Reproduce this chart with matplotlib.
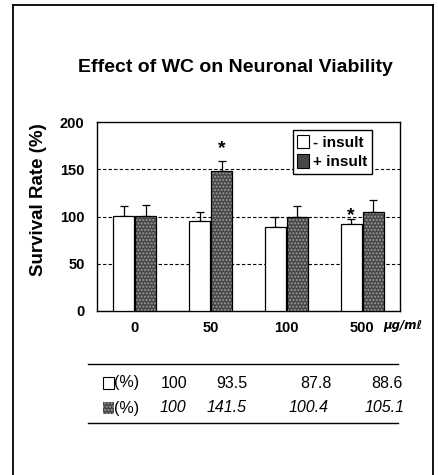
import matplotlib
matplotlib.use("Agg")
import matplotlib.pyplot as plt
from matplotlib.patches import Patch, Rectangle
from matplotlib.lines import Line2D
import numpy as np

plt.rcParams['font.family'] = ['Liberation Sans', 'DejaVu Sans']

# ---- data ----
doses = ['0', '50', '100', '500']
minus_vals = [101, 95, 89, 92]
minus_err = [10, 10, 10, 5]
plus_vals = [101, 148, 100, 105]
plus_err = [11, 11, 11, 12]
yticks = [0, 50, 100, 150, 200]
table_minus = ['100', '93.5', '87.8', '88.6']
table_plus = ['100', '141.5', '100.4', '105.1']
star_minus = [False, False, False, True]
star_plus = [False, True, False, False]

W, H = 439, 475
fig = plt.figure(figsize=(W / 100, H / 100), dpi=100)
fig.patch.set_facecolor('white')


def fx(px):
    return px / W


def fy(py):
    return 1 - py / H


# outer frame (open at bottom)
fig.add_artist(Line2D([fx(13), fx(13)], [0, fy(5)], color='black', lw=1.3))
fig.add_artist(Line2D([fx(13), fx(433)], [fy(5), fy(5)], color='black', lw=1.3))
fig.add_artist(Line2D([fx(433), fx(433)], [fy(5), 0], color='black', lw=1.3))

ax = fig.add_axes([fx(97), fy(311), fx(400) - fx(97), fy(122) - fy(311)])
x = np.arange(len(doses))
bw = 0.28
off = 0.145
gray = '#474747'

ax.bar(x - off, minus_vals, bw, color='white', edgecolor='black', lw=0.9, zorder=3)
ax.bar(x + off, plus_vals, bw, color=gray, edgecolor='#9a9a9a', hatch='.....', lw=0, zorder=3)
ax.bar(x + off, plus_vals, bw, color='none', edgecolor='black', lw=0.9, zorder=4)
ax.errorbar(x - off, minus_vals, yerr=[np.zeros(4), minus_err], fmt='none',
            ecolor='black', elinewidth=0.9, capsize=3, capthick=0.9, zorder=2)
ax.errorbar(x + off, plus_vals, yerr=[np.zeros(4), plus_err], fmt='none',
            ecolor='black', elinewidth=0.9, capsize=3, capthick=0.9, zorder=2)

for i in range(len(doses)):
    if star_minus[i]:
        ax.text(x[i] - off, minus_vals[i] + minus_err[i] + 4, '*', ha='center', va='center',
                fontsize=14, fontweight='bold')
    if star_plus[i]:
        ax.text(x[i] + off, plus_vals[i] + plus_err[i] + 13, '*', ha='center', va='center',
                fontsize=14, fontweight='bold')

ax.set_xlim(-0.5, len(doses) - 0.5)
ax.set_ylim(0, 200)
ax.set_yticks(yticks)
ax.set_yticklabels([str(t) for t in yticks], fontweight='bold', fontsize=10.5)
ax.set_xticks(x)
ax.set_xticklabels(doses, fontweight='bold', fontsize=10.5)
ax.tick_params(axis='both', length=0)
ax.tick_params(axis='y', pad=9)
ax.tick_params(axis='x', pad=7)
for t in yticks[1:-1]:
    ax.axhline(t, color='black', lw=0.8, ls=(0, (3, 2)), zorder=1)
for s in ax.spines.values():
    s.set_linewidth(1.0)

ax.set_ylabel('Survival Rate (%)', fontweight='bold', fontsize=13.5)
ax.yaxis.set_label_coords(-0.165, 0.59)

handles = [Patch(facecolor='white', edgecolor='black', lw=0.8, label='- insult'),
           Patch(facecolor=gray, edgecolor='black', lw=0.8, label='+ insult')]
leg = ax.legend(handles=handles, loc='upper right', bbox_to_anchor=(0.908, 0.958),
                borderaxespad=0, fancybox=False, framealpha=1, edgecolor='black',
                prop={'size': 11, 'weight': 'bold'}, handlelength=0.75, handleheight=1.0,
                handletextpad=0.3, borderpad=0.3, labelspacing=0.3)
leg.get_frame().set_linewidth(1.0)

fig.text(fx(235), fy(68), 'Effect of WC on Neuronal Viability', ha='center', va='center',
         fontsize=14, fontweight='bold')
fig.text(fx(383), fy(326), 'μg/mℓ', ha='left', va='center', fontsize=8.5,
         fontweight='bold', style='italic', family=['DejaVu Sans'])

# table
fig.add_artist(Line2D([fx(88), fx(398)], [fy(364), fy(364)], color='black', lw=1.0))
fig.add_artist(Line2D([fx(88), fx(398)], [fy(423), fy(423)], color='black', lw=1.0))
row_y = [383, 408]
fig.add_artist(Rectangle((fx(103), fy(389)), fx(11), 12 / H, facecolor='white',
                         edgecolor='black', lw=0.8, transform=fig.transFigure))
fig.add_artist(Rectangle((fx(103), fy(414)), fx(11), 12 / H, facecolor=gray,
                         edgecolor='#9a9a9a', hatch='.....', lw=0, transform=fig.transFigure))
for ry in row_y:
    fig.text(fx(114), fy(ry), '(%)', ha='left', va='center', fontsize=11.5)
row1_x = [174, 232, 316, 387]
row2_x = [173, 227, 309, 385]
for v, px in zip(table_minus, row1_x):
    fig.text(fx(px), fy(row_y[0]), v, ha='center', va='center', fontsize=11.5)
for v, px in zip(table_plus, row2_x):
    fig.text(fx(px), fy(row_y[1]), v, ha='center', va='center', fontsize=11.5, style='italic')

fig.savefig('out.png', dpi=100)
